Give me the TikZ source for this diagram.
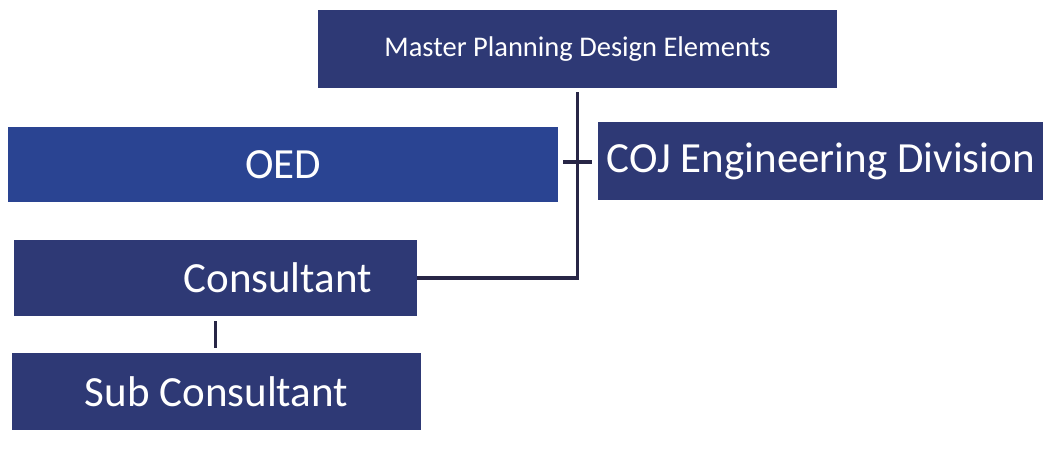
\documentclass[tikz,border=0pt]{standalone}
\usepackage{fontspec}
\setmainfont{Carlito}
\usetikzlibrary{positioning}
\definecolor{boxNavy}{RGB}{46,57,117}
\definecolor{boxBlue}{RGB}{42,68,146}
\definecolor{lineColor}{RGB}{40,38,70}
\tikzset{
    orgbox/.style={
        rectangle,
        fill=boxNavy,
        text=white,
        inner sep=0pt,
        minimum height=77pt,
        font=\fontsize{43}{50}\selectfont,
        align=center
    },
    link/.style={
        draw=lineColor,
        line width=3.5pt
    }
}

\begin{document}
\begin{tikzpicture}[x=1pt,y=1pt]
    \useasboundingbox (0,0) rectangle (1043,449);
    \node[orgbox, minimum width=519pt, minimum height=78pt, font=\fontsize{28.5}{34}\selectfont] (Master) at (577.5,400) {Master Planning Design Elements};
    \node[orgbox, fill=boxBlue, minimum width=550pt, minimum height=75pt] (OED) at (283,284.5) {OED};
    \node[orgbox, minimum width=445pt, minimum height=78pt, right=40pt of OED, yshift=3.5pt] (COJ) {COJ Engineering Division};

    \node[orgbox, minimum width=403pt, minimum height=76pt, text width=313pt, align=right] (Cons) at (215.5,171) {Consultant};
    \node[orgbox, minimum width=409pt, below=37pt of Cons, xshift=1pt] (Sub) {Sub Consultant};

    % Links
    \coordinate (Bend) at (Master.south |- Cons.east);
    \draw[link] ([yshift=-4pt]Master.south) -- (Bend) -- (Cons.east);
    \coordinate (TickL) at (563,287);
    \coordinate (TickR) at (592,287);
    \draw[link] (TickL) -- (TickR);
    \draw[link, line width=3pt] ([yshift=-5pt]Cons.south) -- ([yshift=5pt]Cons.south |- Sub.north);
\end{tikzpicture}
\end{document}
